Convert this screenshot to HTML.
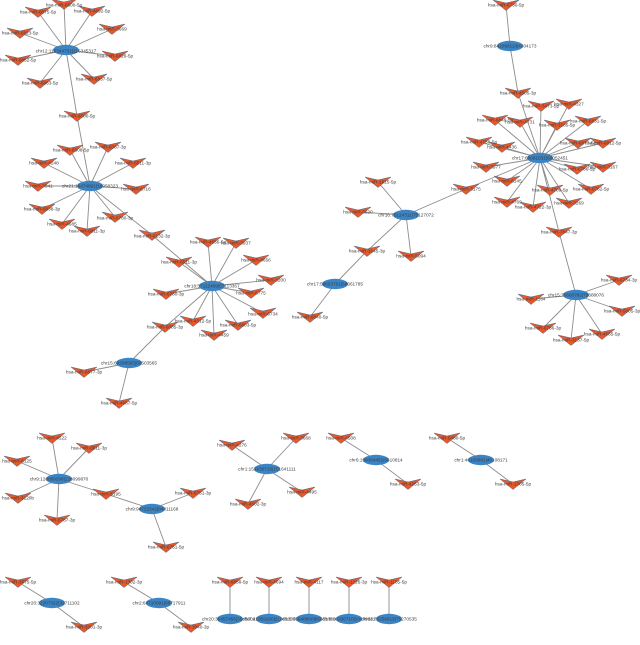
<!DOCTYPE html>
<html><head><meta charset="utf-8"><style>
html,body{margin:0;padding:0;background:#fff}
svg{display:block}
text{font-family:"Liberation Sans",sans-serif;font-size:4.7px;fill:#3c3c3c;text-anchor:middle;dominant-baseline:central}
</style></head><body>
<svg width="640" height="645" viewBox="0 0 640 645" xmlns="http://www.w3.org/2000/svg">
<defs>
<polygon id="v" points="-13,-5 0,-2 13,-5 0,5.5" fill="#e8582a" stroke="#4f6484" stroke-width=".5"/>
<ellipse id="e" rx="13" ry="5.2" fill="#3a85c6"/>
<filter id="b" x="0" y="0" width="100%" height="100%"><feGaussianBlur stdDeviation="0.22"/></filter>
</defs>
<g filter="url(#b)">
<rect width="640" height="645" fill="#fff"/>
<path fill="none" stroke="#8c8c8c" stroke-width=".9" d="
M66 50L64 4M66 50L38 12M66 50L92 11M66 50L112 29M66 50L20 33M66 50L115 56M66 50L18 60M66 50L94 79M66 50L40 83M66 50L77 116
M90 186L77 116M90 186L70 150M90 186L108 147M90 186L44 163M90 186L133 163M90 186L38 186M90 186L136 189M90 186L42 209M90 186L62 224M90 186L87 231M90 186L115 217M90 186L152 235
M212 286L152 235M212 286L179 262M212 286L208 242M212 286L236 243M212 286L256 260M212 286L271 280M212 286L251 293M212 286L263 313M212 286L238 325M212 286L214 335M212 286L193 321M212 286L165 327M212 286L166 294
M129 363L165 327M129 363L84 372M129 363L119 403
M406 215L378 182M406 215L358 212M406 215L466 189M406 215L411 256M406 215L367 251M335 284L367 251M335 284L310 317
M510 46L506 5M510 46L518 93
M540 158L518 93M540 158L541 106M540 158L569 104M540 158L495 120M540 158L520 122M540 158L557 125M540 158L588 121M540 158L578 143M540 158L603 143M540 158L479 142M540 158L502 147M540 158L486 167M540 158L577 169M540 158L603 167M540 158L507 181M540 158L466 189M540 158L550 190M540 158L591 189M540 158L507 202M540 158L533 207M540 158L569 203M540 158L559 232
M576 295L559 232M576 295L619 280M576 295L531 299M576 295L622 311M576 295L543 328M576 295L571 340M576 295L602 334
M59 479L52 438M59 479L89 448M59 479L17 461M59 479L18 498M59 479L57 520M59 479L106 494M152 509L106 494M152 509L193 493M152 509L166 547
M267 469L232 445M267 469L296 438M267 469L302 492M267 469L248 504
M376 460L341 438M376 460L408 484M481 460L447 438M481 460L513 484
M52 603L18 582M52 603L84 627M159 603L124 582M159 603L191 627
M230 619L230 582M269 619L269 582M309 619L309 582M349 619L349 582M389 619L389 582"/>
<use href="#e" x="66" y="50"/><use href="#e" x="90" y="186"/><use href="#e" x="212" y="286"/><use href="#e" x="129" y="363"/><use href="#e" x="406" y="215"/><use href="#e" x="335" y="284"/><use href="#e" x="510" y="46"/><use href="#e" x="540" y="158"/><use href="#e" x="576" y="295"/><use href="#e" x="59" y="479"/><use href="#e" x="152" y="509"/><use href="#e" x="267" y="469"/><use href="#e" x="376" y="460"/><use href="#e" x="481" y="460"/><use href="#e" x="52" y="603"/><use href="#e" x="159" y="603"/><use href="#e" x="230" y="619"/><use href="#e" x="269" y="619"/><use href="#e" x="309" y="619"/><use href="#e" x="349" y="619"/><use href="#e" x="389" y="619"/>
<use href="#v" x="64" y="4"/><use href="#v" x="38" y="12"/><use href="#v" x="92" y="11"/><use href="#v" x="112" y="29"/><use href="#v" x="20" y="33"/><use href="#v" x="115" y="56"/><use href="#v" x="18" y="60"/><use href="#v" x="94" y="79"/><use href="#v" x="40" y="83"/><use href="#v" x="77" y="116"/>
<use href="#v" x="70" y="150"/><use href="#v" x="108" y="147"/><use href="#v" x="44" y="163"/><use href="#v" x="133" y="163"/><use href="#v" x="38" y="186"/><use href="#v" x="136" y="189"/><use href="#v" x="42" y="209"/><use href="#v" x="62" y="224"/><use href="#v" x="87" y="231"/><use href="#v" x="115" y="217"/><use href="#v" x="152" y="235"/>
<use href="#v" x="179" y="262"/><use href="#v" x="208" y="242"/><use href="#v" x="236" y="243"/><use href="#v" x="256" y="260"/><use href="#v" x="271" y="280"/><use href="#v" x="251" y="293"/><use href="#v" x="263" y="313"/><use href="#v" x="238" y="325"/><use href="#v" x="214" y="335"/><use href="#v" x="193" y="321"/><use href="#v" x="165" y="327"/><use href="#v" x="166" y="294"/>
<use href="#v" x="84" y="372"/><use href="#v" x="119" y="403"/>
<use href="#v" x="378" y="182"/><use href="#v" x="358" y="212"/><use href="#v" x="466" y="189"/><use href="#v" x="411" y="256"/><use href="#v" x="367" y="251"/><use href="#v" x="310" y="317"/>
<use href="#v" x="506" y="5"/><use href="#v" x="518" y="93"/><use href="#v" x="541" y="106"/><use href="#v" x="569" y="104"/><use href="#v" x="495" y="120"/><use href="#v" x="520" y="122"/><use href="#v" x="557" y="125"/><use href="#v" x="588" y="121"/><use href="#v" x="578" y="143"/><use href="#v" x="603" y="143"/><use href="#v" x="479" y="142"/><use href="#v" x="502" y="147"/><use href="#v" x="486" y="167"/><use href="#v" x="577" y="169"/><use href="#v" x="603" y="167"/><use href="#v" x="507" y="181"/><use href="#v" x="550" y="190"/><use href="#v" x="591" y="189"/><use href="#v" x="507" y="202"/><use href="#v" x="533" y="207"/><use href="#v" x="569" y="203"/><use href="#v" x="559" y="232"/>
<use href="#v" x="619" y="280"/><use href="#v" x="531" y="299"/><use href="#v" x="622" y="311"/><use href="#v" x="543" y="328"/><use href="#v" x="571" y="340"/><use href="#v" x="602" y="334"/>
<use href="#v" x="52" y="438"/><use href="#v" x="89" y="448"/><use href="#v" x="17" y="461"/><use href="#v" x="18" y="498"/><use href="#v" x="57" y="520"/><use href="#v" x="106" y="494"/><use href="#v" x="193" y="493"/><use href="#v" x="166" y="547"/>
<use href="#v" x="232" y="445"/><use href="#v" x="296" y="438"/><use href="#v" x="302" y="492"/><use href="#v" x="248" y="504"/><use href="#v" x="341" y="438"/><use href="#v" x="408" y="484"/><use href="#v" x="447" y="438"/><use href="#v" x="513" y="484"/>
<use href="#v" x="18" y="582"/><use href="#v" x="84" y="627"/><use href="#v" x="124" y="582"/><use href="#v" x="191" y="627"/><use href="#v" x="230" y="582"/><use href="#v" x="269" y="582"/><use href="#v" x="309" y="582"/><use href="#v" x="349" y="582"/><use href="#v" x="389" y="582"/>
<text x="66" y="51">chr12:116344731|116345317</text>
<text x="90" y="186">chr21:16474801|16958323</text>
<text x="212" y="286">chr18:57112469|57113367</text>
<text x="129" y="363">chr15:60298565|60503565</text>
<text x="406" y="215">chr16:75124311|75127072</text>
<text x="335" y="284">chr17:58653761|58661785</text>
<text x="510" y="46">chr9:84209811|84304173</text>
<text x="540" y="158">chr17:60081531|60052451</text>
<text x="576" y="295">chr15:75666782|75688076</text>
<text x="59" y="479">chr9:128099298|128099870</text>
<text x="152" y="509">chr9:94723342|94811168</text>
<text x="267" y="469">chr1:151630710|151641111</text>
<text x="376" y="460">chr6:15609445|15610814</text>
<text x="481" y="460">chr1:46105881|46108171</text>
<text x="52" y="603">chr20:32207322|32711102</text>
<text x="159" y="603">chr2:68710091|68717911</text>
<text x="230" y="619">chr20:35457456|35459041</text>
<text x="269" y="619">chr7:21059160|21061203</text>
<text x="309" y="619">chr5:95648800|95651360</text>
<text x="349" y="619">chr8:10206710|10209881</text>
<text x="389" y="619">chr11:75259919|75270535</text>
<text x="64" y="5">hsa-miR-6500-5p</text><text x="38" y="12">hsa-miR-6875-5p</text><text x="92" y="11">hsa-miR-4692-5p</text><text x="112" y="29">hsa-miR-3669</text><text x="20" y="33">hsa-miR-6823-5p</text><text x="115" y="56">hsa-miR-6826-5p</text><text x="18" y="60">hsa-miR-6852-5p</text><text x="94" y="79">hsa-miR-6837-5p</text><text x="40" y="83">hsa-miR-6863-5p</text><text x="77" y="116">hsa-miR-6500-5p</text>
<text x="71" y="150">hsa-miR-6508-5p</text><text x="108" y="147">hsa-miR-6087-3p</text><text x="44" y="163">hsa-miR-4248</text><text x="133" y="163">hsa-miR-6511-3p</text><text x="38" y="186">hsa-miR-3941</text><text x="136" y="189">hsa-miR-6716</text><text x="42" y="209">hsa-miR-6838-3p</text><text x="62" y="224">hsa-miR-4685</text><text x="87" y="231">hsa-miR-6811-3p</text><text x="115" y="218">hsa-miR-6780-3p</text><text x="152" y="236">hsa-miR-6132-3p</text>
<text x="179" y="262">hsa-miR-6511-3p</text><text x="208" y="242">hsa-miR-4656-5p</text><text x="236" y="243">hsa-miR-3937</text><text x="256" y="260">hsa-miR-4656</text><text x="271" y="280">hsa-miR-3200</text><text x="251" y="293">hsa-miR-6775</text><text x="263" y="314">hsa-miR-6734</text><text x="238" y="325">hsa-miR-6803-5p</text><text x="214" y="335">hsa-miR-4459</text><text x="193" y="321">hsa-miR-4312-5p</text><text x="165" y="327">hsa-miR-6085-3p</text><text x="166" y="294">hsa-miR-6780-3p</text>
<text x="84" y="372">hsa-miR-6877-3p</text><text x="119" y="403">hsa-miR-4687-5p</text>
<text x="378" y="182">hsa-miR-1915-5p</text><text x="358" y="212">hsa-miR-3620</text><text x="466" y="189">hsa-miR-3175</text><text x="411" y="256">hsa-miR-5094</text><text x="367" y="251">hsa-miR-3145-3p</text><text x="310" y="317">hsa-miR-6840-5p</text>
<text x="506" y="5">hsa-miR-6730-5p</text><text x="518" y="93">hsa-miR-4505-3p</text><text x="541" y="106">hsa-miR-3473-5p</text><text x="569" y="104">hsa-miR-4327</text><text x="495" y="120">hsa-miR-6849-5p</text><text x="520" y="122">hsa-miR-4731</text><text x="557" y="125">hsa-miR-3185-5p</text><text x="588" y="121">hsa-miR-6831-5p</text><text x="578" y="143">hsa-miR-6877-5p</text><text x="603" y="143">hsa-miR-6812-5p</text><text x="479" y="142">hsa-miR-4758-5p</text><text x="502" y="147">hsa-miR-4436</text><text x="486" y="167">hsa-miR-3977</text><text x="577" y="169">hsa-miR-6786-5p</text><text x="603" y="167">hsa-miR-3167</text><text x="507" y="181">hsa-miR-6145</text><text x="550" y="190">hsa-miR-4709-5p</text><text x="591" y="189">hsa-miR-6762-5p</text><text x="507" y="202">hsa-miR-4769</text><text x="533" y="207">hsa-miR-4722-3p</text><text x="569" y="203">hsa-miR-3269</text><text x="559" y="232">hsa-miR-7847-3p</text>
<text x="619" y="280">hsa-miR-6734-3p</text><text x="531" y="299">hsa-miR-1184</text><text x="622" y="311">hsa-miR-5005-3p</text><text x="543" y="328">hsa-miR-6786-3p</text><text x="571" y="340">hsa-miR-3137-5p</text><text x="602" y="334">hsa-miR-4665-5p</text>
<text x="52" y="438">hsa-miR-4522</text><text x="89" y="448">hsa-miR-6511-3p</text><text x="17" y="461">hsa-miR-6125</text><text x="18" y="498">hsa-miR-3120b</text><text x="57" y="520">hsa-miR-5787-3p</text><text x="106" y="494">hsa-miR-5195</text><text x="193" y="493">hsa-miR-6751-3p</text><text x="166" y="547">hsa-miR-6751-5p</text>
<text x="232" y="445">hsa-miR-4276</text><text x="296" y="438">hsa-miR-3668</text><text x="302" y="492">hsa-miR-4495</text><text x="248" y="504">hsa-miR-4502-3p</text><text x="341" y="438">hsa-miR-4508</text><text x="408" y="484">hsa-miR-4253-5p</text><text x="447" y="438">hsa-miR-5480-5p</text><text x="513" y="484">hsa-miR-1305-5p</text>
<text x="18" y="582">hsa-miR-3975-5p</text><text x="84" y="627">hsa-miR-3201-3p</text><text x="124" y="582">hsa-miR-1302-3p</text><text x="191" y="627">hsa-miR-3940-3p</text><text x="230" y="582">hsa-miR-6858-5p</text><text x="269" y="582">hsa-miR-4694</text><text x="309" y="582">hsa-miR-4117</text><text x="349" y="582">hsa-miR-1226-3p</text><text x="389" y="582">hsa-miR-1185-5p</text>
</g>
</svg>
</body></html>
